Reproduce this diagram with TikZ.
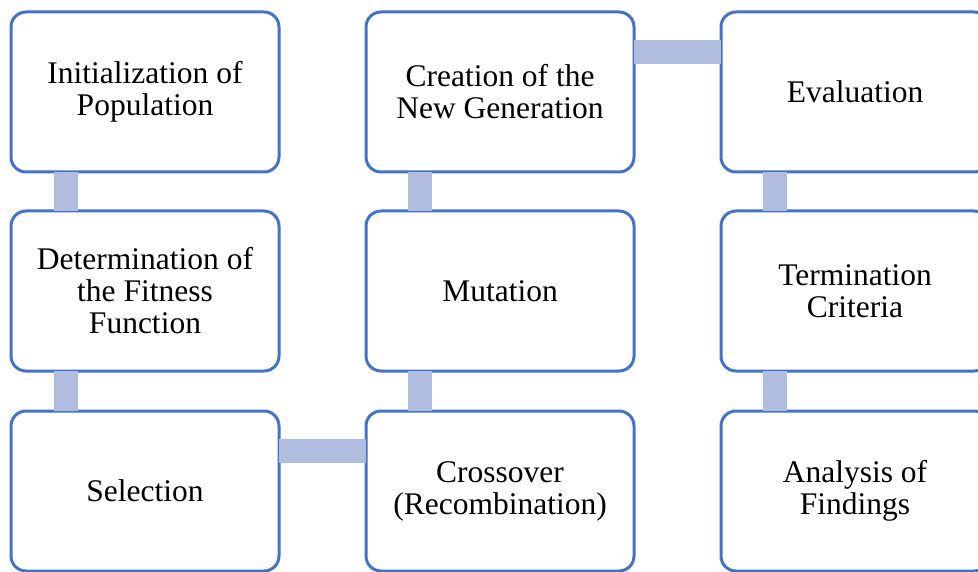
\documentclass[tikz,border=0pt]{standalone}
\usepackage{fontspec}
\setmainfont{Liberation Serif}
\definecolor{boxblue}{HTML}{4472C4}
\definecolor{connblue}{HTML}{B0BDDF}
\begin{document}
\begin{tikzpicture}[x=1pt,y=-1pt,
  stepbox/.style={draw=boxblue, line width=3pt, fill=white, rounded corners=15pt,
    minimum width=268pt, minimum height=160pt, inner sep=0pt, outer sep=0pt,
    align=center, font=\fontsize{31.5}{32}\selectfont},
  conn/.style={connblue, line width=24pt}]
\useasboundingbox (0,0) rectangle (978,572);
\clip (0,0) rectangle (978,572);
\node[stepbox] (init) at (145,92) {Initialization of\\Population};
\node[stepbox] (fit) at (145,291) {Determination of\\the Fitness\\Function};
\node[stepbox] (sel) at (145,491) {Selection};
\node[stepbox] (cross) at (500,491) {Crossover\\(Recombination)};
\node[stepbox] (mut) at (500,291) {Mutation};
\node[stepbox] (create) at (500,92) {Creation of the\\New Generation};
\node[stepbox] (eval) at (855,92) {Evaluation};
\node[stepbox] (term) at (855,291) {Termination\\Criteria};
\node[stepbox] (anal) at (855,491) {Analysis of\\Findings};
\draw[conn] ([xshift=55pt]init.south west) -- ([xshift=55pt]fit.north west);
\draw[conn] ([xshift=55pt]fit.south west) -- ([xshift=55pt]sel.north west);
\draw[conn] ([yshift=-40pt]sel.north east) -- ([yshift=-40pt]cross.north west);
\draw[conn] ([xshift=54pt]cross.north west) -- ([xshift=54pt]mut.south west);
\draw[conn] ([xshift=54pt]mut.north west) -- ([xshift=54pt]create.south west);
\draw[conn] ([yshift=-40pt]create.north east) -- ([yshift=-40pt]eval.north west);
\draw[conn] ([xshift=54pt]eval.south west) -- ([xshift=54pt]term.north west);
\draw[conn] ([xshift=54pt]term.south west) -- ([xshift=54pt]anal.north west);
\end{tikzpicture}
\end{document}
